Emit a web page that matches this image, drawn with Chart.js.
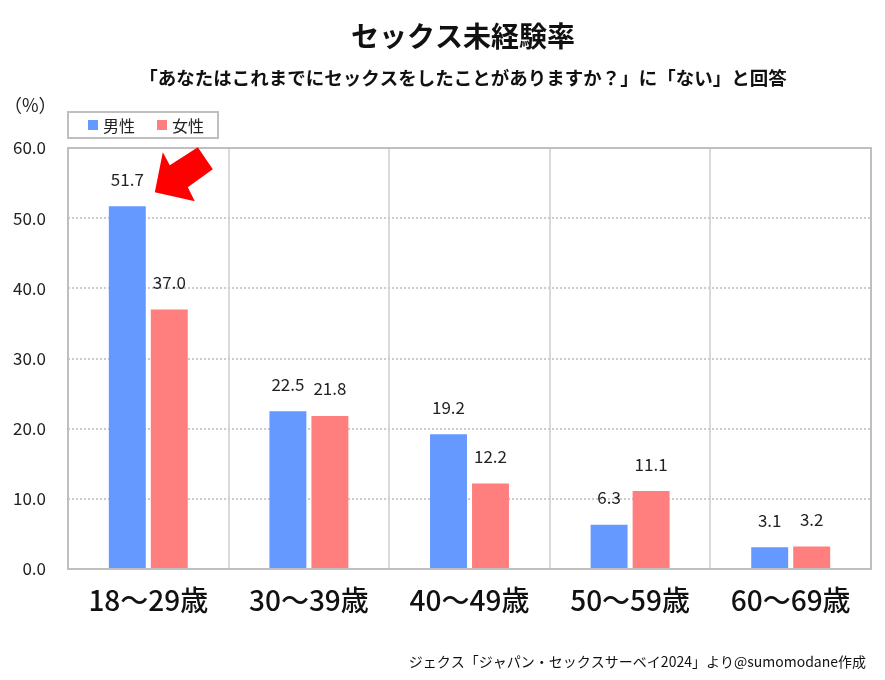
<!DOCTYPE html>
<html>
<head>
  <meta charset="utf-8">
  <title>セックス未経験率</title>
  <script src="https://cdn.jsdelivr.net/npm/chart.js"></script>
  <style>
    body { margin: 0; background: #fff; }
  </style>
</head>
<body>
  <canvas id="myChart" width="885" height="680"></canvas>
  <script>
const ageGroups = ['18〜29歳', '30〜39歳', '40〜49歳', '50〜59歳', '60〜69歳'];
const maleValues = [51.7, 22.5, 19.2, 6.3, 3.1];
const femaleValues = [37.0, 21.8, 12.2, 11.1, 3.2];
const seriesNames = ['男性', '女性'];
const yTicks = [0, 10, 20, 30, 40, 50, 60];

const titleText = 'セックス未経験率';
const subtitleText = '「あなたはこれまでにセックスをしたことがありますか？」に「ない」と回答';
const unitText = '（%）';
const sourceText = 'ジェクス「ジャパン・セックスサーベイ2024」より@sumomodane作成';

const FONT = '"Noto Sans CJK JP", "Noto Sans", sans-serif';

// titles, legend box, frame, value labels and the arrow
const decorations = {
  id: 'decorations',
  afterDraw(chart) {
    const ctx = chart.ctx;
    const area = chart.chartArea;
    ctx.save();

    // frame around the plot
    ctx.strokeStyle = '#bfbfbf';
    ctx.lineWidth = 2;
    ctx.strokeRect(area.left, area.top, area.right - area.left, area.bottom - area.top);

    // value labels
    ctx.fillStyle = '#222';
    ctx.font = '17px ' + FONT;
    ctx.textAlign = 'center';
    ctx.textBaseline = 'middle';
    chart.data.datasets.forEach((ds, i) => {
      chart.getDatasetMeta(i).data.forEach((bar, j) => {
        ctx.fillText(ds.data[j].toFixed(1), bar.x, bar.y - 27);
      });
    });

    // red arrow pointing at the first male bar
    const first = chart.getDatasetMeta(0).data[0];
    const bx = first.x, by = first.y;
    const pts = [[27.5, -14], [35.5, -54], [42.5, -41], [70.5, -59], [85.5, -37], [60.5, -19], [67.5, -5]];
    ctx.fillStyle = '#ff0000';
    ctx.beginPath();
    pts.forEach((p, k) => {
      if (k === 0) ctx.moveTo(bx + p[0], by + p[1]);
      else ctx.lineTo(bx + p[0], by + p[1]);
    });
    ctx.closePath();
    ctx.fill();

    // titles
    ctx.fillStyle = '#111';
    ctx.textAlign = 'center';
    ctx.font = 'bold 28px ' + FONT;
    ctx.fillText(titleText, 463, 36);
    ctx.font = 'bold 18.5px ' + FONT;
    ctx.fillText(subtitleText, 463, 78);

    // unit
    ctx.font = '18px ' + FONT;
    ctx.textAlign = 'left';
    ctx.fillStyle = '#222';
    ctx.fillText(unitText, 4, 105);

    // legend box
    ctx.strokeStyle = '#bfbfbf';
    ctx.lineWidth = 2;
    ctx.strokeRect(68, 112, 150, 26);
    let lx = 88;
    chart.data.datasets.forEach(ds => {
      ctx.fillStyle = ds.backgroundColor;
      ctx.fillRect(lx, 120, 10, 10);
      ctx.fillStyle = '#222';
      ctx.font = '16px ' + FONT;
      ctx.fillText(ds.label, lx + 15, 126);
      lx += 69;
    });

    // source note
    ctx.textAlign = 'right';
    ctx.font = '14px ' + FONT;
    ctx.fillStyle = '#111';
    ctx.fillText(sourceText, 866, 662);

    ctx.restore();
  }
};

const ctx = document.getElementById('myChart').getContext('2d');
const myChart = new Chart(ctx, {
  type: 'bar',
  data: {
    labels: ageGroups,
    datasets: [{
      label: seriesNames[0],
      data: maleValues,
      backgroundColor: '#6699ff',
      categoryPercentage: 0.523,
      barPercentage: 0.88
    }, {
      label: seriesNames[1],
      data: femaleValues,
      backgroundColor: '#ff7f7f',
      categoryPercentage: 0.523,
      barPercentage: 0.88
    }]
  },
  options: {
    responsive: false,
    animation: false,
    layout: {
      padding: { left: 0, top: 148, right: 14, bottom: 61 }
    },
    plugins: {
      legend: { display: false },
      title: { display: false },
      tooltip: { enabled: false }
    },
    scales: {
      x: {
        grid: { color: '#d9d9d9', lineWidth: 2, drawTicks: false },
        border: { display: false },
        ticks: {
          color: '#111',
          font: { family: FONT, size: 28, weight: '500' },
          padding: 15
        },
        afterFit(scale) { scale.height = 50; }
      },
      y: {
        min: 0,
        max: 60,
        afterBuildTicks(scale) { scale.ticks = yTicks.map(v => ({ value: v })); },
        grid: { color: '#cccccc', lineWidth: 2, drawTicks: false },
        border: { display: false, dash: [2, 2] },
        ticks: {
          color: '#222',
          font: { family: FONT, size: 17 },
          padding: 22,
          callback: v => v.toFixed(1)
        },
        afterFit(scale) { scale.width = 68; }
      }
    }
  },
  plugins: [decorations]
});
  </script>
</body>
</html>
